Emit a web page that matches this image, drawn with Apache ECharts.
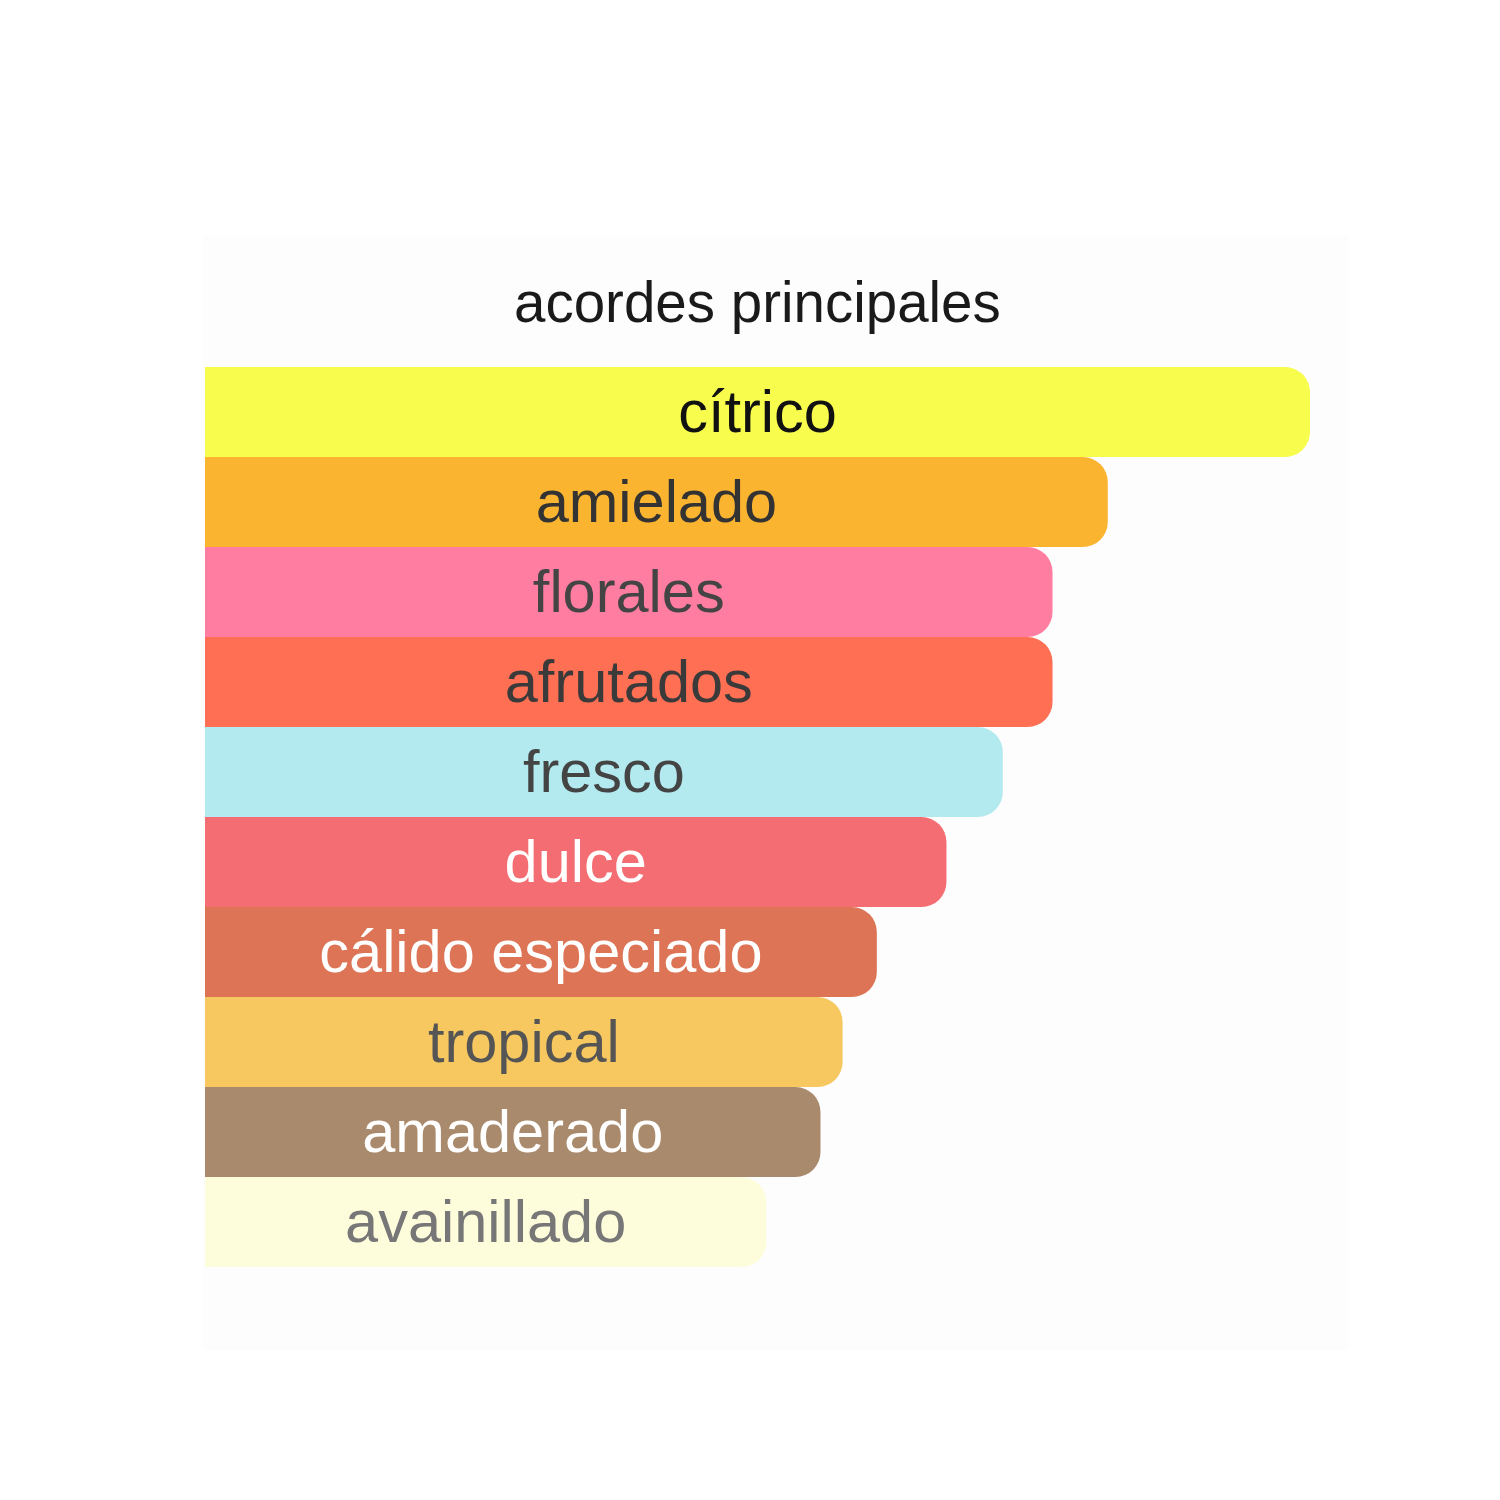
<!DOCTYPE html>
<html>
<head>
<meta charset="utf-8">
<script src="https://cdn.jsdelivr.net/npm/echarts@6/dist/echarts.min.js"></script>
<style>
html,body{margin:0;padding:0;background:#ffffff;}
#chart{width:1500px;height:1500px;}
</style>
</head>
<body>
<div id="chart"></div>
<script>
var categories = ['cítrico','amielado','florales','afrutados','fresco','dulce','cálido especiado','tropical','amaderado','avainillado'];
var values = [100, 81.7, 76.7, 76.7, 72.2, 67.1, 60.8, 57.7, 55.7, 50.8];
var barColors = ['#f8fc4d','#fbb42f','#fe7da0','#fe6f54','#b3eaf0','#f36d72','#dc7455','#f7c85f','#a98a6c','#fefddb'];
var labelColors = ['#111111','#333333','#444444','#3a3a3a','#444444','#ffffff','#ffffff','#555555','#ffffff','#777777'];
var titleText = 'acordes principales';

var chart = echarts.init(document.getElementById('chart'), null, {renderer:'canvas'});
var data = values.map(function(v,i){
  return {
    value: v,
    itemStyle: {color: barColors[i], borderRadius: [0,25,25,0]},
    label: {color: labelColors[i]}
  };
});
chart.setOption({
  backgroundColor: '#ffffff',
  animation: false,
  graphic: [{
    type: 'rect', z: -10, silent: true,
    shape: {x: 203, y: 235, width: 1145, height: 1115},
    style: {fill: '#fdfdfd'}
  }],
  title: {
    text: titleText,
    left: 514, top: 278,
    padding: 0,
    textStyle: {fontFamily: 'Liberation Sans', fontSize: 56.5, fontWeight: 'normal', color: '#1a1a1a'}
  },
  grid: {left: 205, right: 190, top: 367, bottom: 233, containLabel: false},
  xAxis: {type: 'value', min: 0, max: 100, show: false},
  yAxis: {type: 'category', data: categories, inverse: true, show: false},
  series: [{
    type: 'bar',
    data: data,
    barCategoryGap: 0,
    barWidth: '100%',
    label: {
      show: true,
      position: 'inside',
      offset: [0, 4],
      formatter: function(p){ return p.name; },
      fontFamily: 'Liberation Sans',
      fontSize: 59.5
    }
  }]
});
</script>
</body>
</html>
